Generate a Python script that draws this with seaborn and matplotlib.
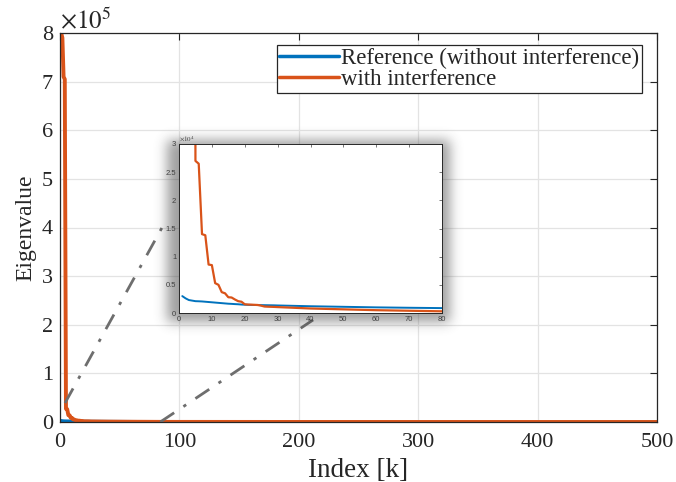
import numpy as np
import pandas as pd
import matplotlib
matplotlib.use("Agg")
import matplotlib.pyplot as plt
from matplotlib.ticker import FuncFormatter
import seaborn as sns

# ---- data ----
index_near = list(range(1, 31))
with_interf_near = [8.0e5, 7.9e5, 7.1e5, 7.05e5, 2.7e4, 2.65e4, 1.4e4, 1.38e4, 8.6e3, 8.5e3,
                    5.3e3, 5.0e3, 3.7e3, 3.5e3, 2.8e3, 2.75e3, 2.4e3, 2.1e3, 2.0e3, 1.55e3,
                    1.5e3, 1.48e3, 1.45e3, 1.42e3, 1.3e3, 1.15e3, 1.12e3, 1.1e3, 1.08e3, 1.05e3]
reference_near = [3.0e3, 2.6e3, 2.3e3, 2.2e3, 2.1e3, 2.08e3, 2.05e3, 2.0e3, 1.95e3, 1.9e3,
                  1.85e3, 1.8e3, 1.75e3, 1.7e3, 1.65e3, 1.62e3, 1.58e3, 1.55e3, 1.5e3, 1.47e3,
                  1.45e3, 1.43e3, 1.42e3, 1.41e3, 1.4e3, 1.39e3, 1.38e3, 1.37e3, 1.36e3, 1.34e3]
index_far = [40, 50, 60, 70, 80, 100, 200, 300, 400, 500]
with_interf_far = [800, 650, 500, 400, 300, 200, 80, 40, 15, 5]
reference_far = [1200, 1100, 1000, 930, 870, 750, 400, 200, 100, 30]

series_names = ["Reference (without interference)", "with interference"]
x_ticks_main = [0, 100, 200, 300, 400, 500]
y_ticks_main = [0, 1e5, 2e5, 3e5, 4e5, 5e5, 6e5, 7e5, 8e5]
x_ticks_inset = [0, 10, 20, 30, 40, 50, 60, 70, 80]
y_ticks_inset = [0, 0.5e4, 1e4, 1.5e4, 2e4, 2.5e4, 3e4]

idx = index_near + index_far
df = pd.DataFrame({
    "Index": idx * 2,
    "Eigenvalue": (reference_near + reference_far) + (with_interf_near + with_interf_far),
    "Series": [series_names[0]] * len(idx) + [series_names[1]] * len(idx),
})

# ---- style ----
sns.set_theme(style="white")
plt.rcParams["font.family"] = ["Liberation Serif", "DejaVu Serif"]
plt.rcParams["mathtext.fontset"] = "stix"
plt.rcParams["axes.edgecolor"] = "#262626"
plt.rcParams["xtick.color"] = "#262626"
plt.rcParams["ytick.color"] = "#262626"

palette = {series_names[0]: "#0072BD", series_names[1]: "#D95319"}

W, H = 676, 482
fig = plt.figure(figsize=(W / 100, H / 100), dpi=100)
fig.patch.set_facecolor("white")

AX_L, AX_R, AX_T, AX_B = 60, 657, 33, 422
ax = fig.add_axes([AX_L / W, 1 - AX_B / H, (AX_R - AX_L) / W, (AX_B - AX_T) / H])
ax.set_zorder(0)
for name, lw in [(series_names[0], 2.2), (series_names[1], 2.8)]:
    sub = df[df["Series"] == name]
    sns.lineplot(data=sub, x="Index", y="Eigenvalue", ax=ax, color=palette[name],
                 linewidth=lw, label=name, estimator=None, sort=False)

ax.set_xlim(0, 500)
ax.set_ylim(0, 8e5)
ax.set_xticks(x_ticks_main)
ax.set_yticks(y_ticks_main)
ax.yaxis.set_major_formatter(FuncFormatter(lambda v, p: "%g" % (v / 1e5)))
ax.text(0.0, 1.0, r"$\times10^{5}$", transform=ax.transAxes, fontsize=18,
        color="#262626", ha="left", va="bottom")
ax.tick_params(direction="in", length=5, width=0.8, labelsize=16, top=True, right=True)
ax.tick_params(axis="x", pad=8)
ax.tick_params(axis="y", pad=5)
ax.grid(True, color="#e3e3e3", linewidth=0.9)
ax.set_axisbelow(True)
for s in ax.spines.values():
    s.set_linewidth(0.9)
ax.set_xlabel("Index [k]", fontsize=19.5, color="#262626", labelpad=4)
ax.set_ylabel("Eigenvalue", fontsize=17, color="#262626", labelpad=4)

leg = ax.legend(loc="upper right", bbox_to_anchor=((642 - AX_L) / (AX_R - AX_L), 0.97),
                fontsize=16.5, frameon=True, fancybox=False, edgecolor="#262626",
                framealpha=1, borderpad=0.12, labelspacing=0.03, handlelength=2.6,
                handletextpad=0.1, borderaxespad=0)
leg.get_frame().set_linewidth(0.9)
for line in leg.get_lines():
    line.set_linewidth(2.5)

# connector dash-dot lines (in main data coords)
ax.plot([4.2, 85.5], [3.9e4, 4.0e5], color="#6e6e6e", linewidth=2.0,
        linestyle=(0, (6, 4, 1.2, 4)), zorder=3)
ax.plot([84, 212], [0, 2.1e5], color="#6e6e6e", linewidth=2.0,
        linestyle=(0, (6, 4, 1.2, 4)), zorder=3)

# shadow behind inset
x0, x1, y0, y1 = 179, 442, 144, 313
mask = np.zeros((H, W))
mask[y0 - 4:y1 + 9, x0 - 12:x1 + 8] = 1.0
sig = 6.0
k = np.arange(-20, 21)
kern = np.exp(-k ** 2 / (2 * sig ** 2))
kern /= kern.sum()
mask = np.apply_along_axis(lambda r: np.convolve(r, kern, mode="same"), 1, mask)
mask = np.apply_along_axis(lambda c: np.convolve(c, kern, mode="same"), 0, mask)
rgba = np.zeros((H, W, 4))
rgba[..., :3] = 0.25
rgba[..., 3] = mask * 0.5
fig.figimage(rgba, xo=0, yo=0, origin="upper", zorder=1)

# inset
axi = fig.add_axes([x0 / W, 1 - y1 / H, (x1 - x0) / W, (y1 - y0) / H])
axi.set_zorder(2)
axi.set_facecolor("white")
for name, lw in [(series_names[0], 1.4), (series_names[1], 1.6)]:
    sub = df[df["Series"] == name]
    sns.lineplot(data=sub, x="Index", y="Eigenvalue", ax=axi, color=palette[name],
                 linewidth=lw, estimator=None, sort=False, legend=False)
axi.set_xlim(0, 80)
axi.set_ylim(0, 3e4)
axi.set_xticks(x_ticks_inset)
axi.set_yticks(y_ticks_inset)
axi.yaxis.set_major_formatter(FuncFormatter(lambda v, p: "%g" % (v / 1e4)))
axi.text(0.0, 1.005, r"$\times10^{4}$", transform=axi.transAxes, fontsize=5,
         color="#404040", ha="left", va="bottom")
axi.tick_params(direction="in", length=2.5, width=0.5, labelsize=5.5, top=True,
                right=True, pad=2, colors="#404040")
for lab in axi.get_xticklabels() + axi.get_yticklabels():
    lab.set_family("Liberation Sans")
axi.set_xlabel("")
axi.set_ylabel("")
for s in axi.spines.values():
    s.set_linewidth(0.7)
    s.set_color("#262626")

fig.savefig("out.png", dpi=100, facecolor="white")
